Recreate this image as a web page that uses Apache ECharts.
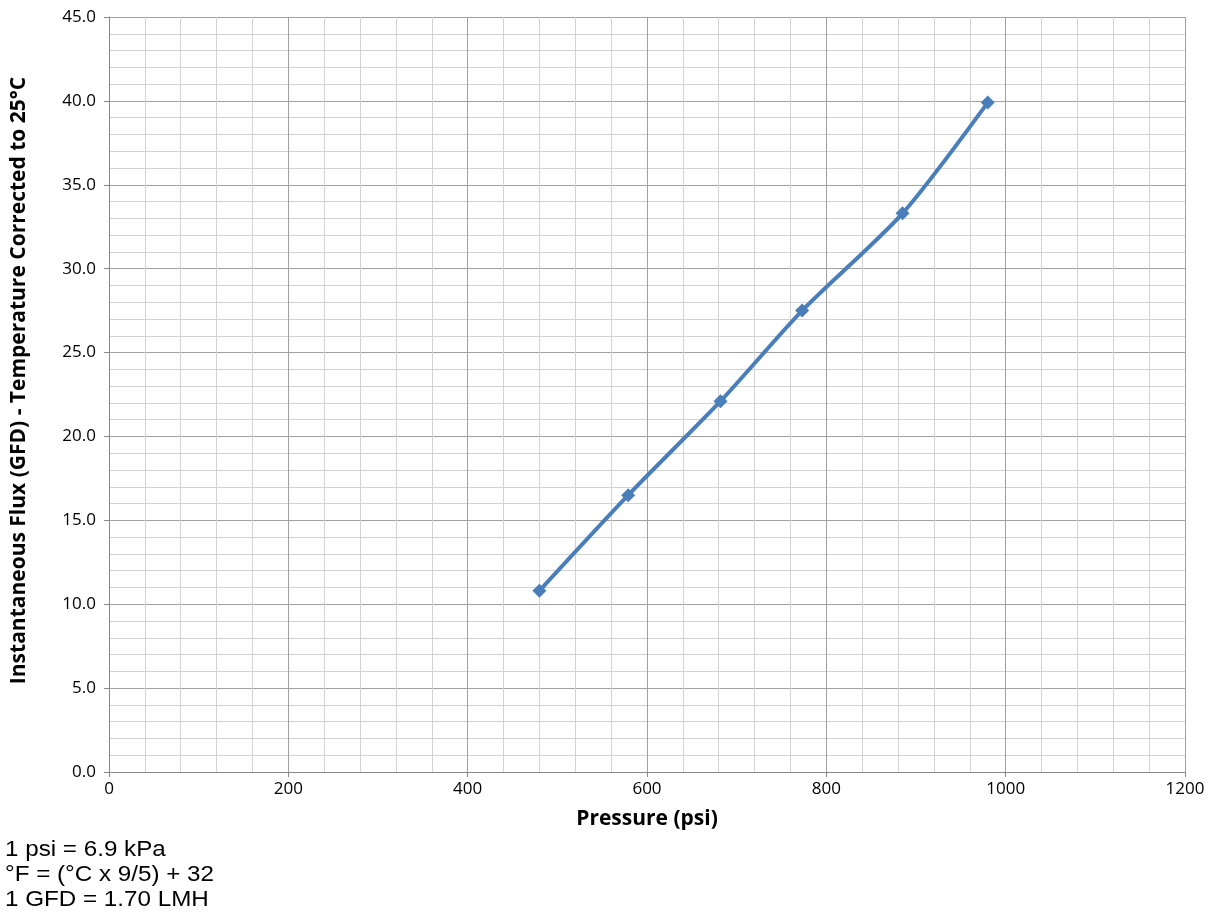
<!DOCTYPE html>
<html><head><meta charset="utf-8">
<script src="https://cdn.jsdelivr.net/npm/echarts@6/dist/echarts.min.js"></script>
<style>html,body{margin:0;padding:0;background:#fff}#c{width:1220px;height:916px}</style>
</head><body><div id="c"></div>
<script>
const pressure = [480, 579, 682, 773, 885, 980];
const flux = [10.8, 16.5, 22.1, 27.5, 33.3, 39.9];
const xTicks = [0, 200, 400, 600, 800, 1000, 1200];
const yTicks = [0, 5, 10, 15, 20, 25, 30, 35, 40, 45];
const notes = ['1 psi = 6.9 kPa', '°F = (°C x 9/5) + 32', '1 GFD = 1.70 LMH'];
const xTitle = 'Pressure (psi)';
const yTitle = 'Instantaneous Flux (GFD) - Temperature Corrected to 25°C';

const chart = echarts.init(document.getElementById('c'), null, {renderer: 'canvas'});
const font = '"Open Sans", sans-serif';
chart.setOption({
  animation: false,
  grid: {left: 109, right: 35, top: 17, bottom: 144},
  xAxis: {
    type: 'value', min: xTicks[0], max: xTicks[xTicks.length - 1], interval: xTicks[1] - xTicks[0],
    name: xTitle, nameLocation: 'middle', nameGap: 37,
    nameTextStyle: {fontFamily: font, fontWeight: 'bold', fontSize: 21, color: '#000'},
    axisLine: {show: true, lineStyle: {color: '#888', width: 1}},
    axisTick: {show: true, length: 5, lineStyle: {color: '#888'}},
    axisLabel: {fontFamily: font, fontSize: 17, color: '#000', margin: 9,
      formatter: v => String(v)},
    splitLine: {show: true, lineStyle: {color: '#a0a0a0', width: 1}},
    minorTick: {show: false, splitNumber: 5},
    minorSplitLine: {show: true, lineStyle: {color: '#d2d2d2', width: 1}}
  },
  yAxis: {
    type: 'value', min: yTicks[0], max: yTicks[yTicks.length - 1], interval: yTicks[1] - yTicks[0],
    name: yTitle, nameLocation: 'middle', nameGap: 79, nameRotate: 90,
    nameTextStyle: {fontFamily: font, fontWeight: 'bold', fontSize: 21, color: '#000',
      padding: [0, 0, 0, 28]},
    axisLine: {show: true, lineStyle: {color: '#888', width: 1}},
    axisTick: {show: true, length: 5, lineStyle: {color: '#888'}},
    axisLabel: {fontFamily: font, fontSize: 17, color: '#000', margin: 13,
      formatter: v => v.toFixed(1)},
    splitLine: {show: true, lineStyle: {color: '#a0a0a0', width: 1}},
    minorTick: {show: false, splitNumber: 5},
    minorSplitLine: {show: true, lineStyle: {color: '#d2d2d2', width: 1}}
  },
  series: [{
    type: 'line',
    data: pressure.map((p, i) => [p, flux[i]]),
    smooth: 0.25,
    symbol: 'diamond', symbolSize: 14,
    lineStyle: {color: '#4a7ebb', width: 4},
    itemStyle: {color: '#4a7ebb'}
  }],
  graphic: notes.map((t, i) => ({
    type: 'text', x: 5, y: 850 + i * 25, scaleX: 1.1,
    style: {text: t, font: '22px "Liberation Sans", Arial, sans-serif', fill: '#000',
      textVerticalAlign: 'middle'}
  }))
});
</script></body></html>
